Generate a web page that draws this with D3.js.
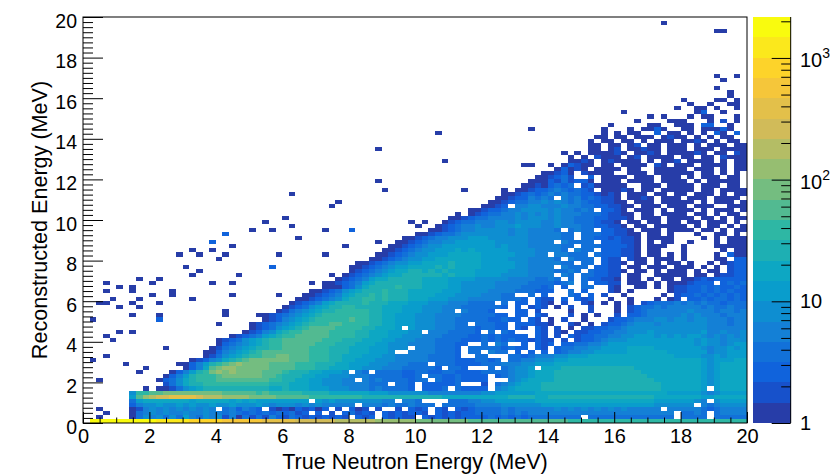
<!DOCTYPE html>
<html>
<head>
<meta charset="utf-8">
<script src="https://cdn.jsdelivr.net/npm/d3@7"></script>
<style>
  body { margin: 0; background: #fff; }
  text { font-family: "Liberation Sans", Arial, Helvetica, sans-serif; fill: #000; }
</style>
</head>
<body>
<svg id="chart" width="830" height="474"></svg>
<script>
// ---- data -------------------------------------------------------------
const energyRange = [0, 20];          // MeV, both axes
const nBins = 100;                    // 100 x 100 bins
const binWidth = 0.2;
const zRange = [1, 2170];             // palette axis (log)
const nLevels = 20;                   // contour levels of the palette

const xTickValues = [0, 2, 4, 6, 8, 10, 12, 14, 16, 18, 20];
const yTickValues = [0, 2, 4, 6, 8, 10, 12, 14, 16, 18, 20];
const zMajorTicks = [1, 10, 100, 1000];
const zMinorTicks = [2, 3, 4, 5, 6, 7, 8, 9, 20, 30, 40, 50, 60, 70, 80, 90,
  200, 300, 400, 500, 600, 700, 800, 900, 2000];
const zLabels = [
  { value: 1, base: '1', exp: '' },
  { value: 10, base: '10', exp: '' },
  { value: 100, base: '10', exp: '2' },
  { value: 1000, base: '10', exp: '3' },
];
const xTitle = 'True Neutron Energy (MeV)';
const yTitle = 'Reconstructed Energy (MeV)';

// ROOT kBird palette
const birdStops = [0.0, 0.125, 0.25, 0.375, 0.5, 0.625, 0.75, 0.875, 1.0];
const birdRed = [0.2082, 0.0592, 0.0780, 0.0232, 0.1802, 0.5301, 0.8186, 0.9956, 0.9764];
const birdGreen = [0.1664, 0.3599, 0.5041, 0.6419, 0.7178, 0.7492, 0.7328, 0.7862, 0.9832];
const birdBlue = [0.5293, 0.8684, 0.8385, 0.7914, 0.6425, 0.4662, 0.3499, 0.1968, 0.0539];

// bin contents, one string per reconstructed-energy bin
// (top row first), one char per true-energy bin: '.' empty, 0-9 a-j = colour level
const levelCodes = '0123456789abcdefghij';
const histRows = [
  /* 99 */ '',
  /* 98 */ '..........|..........|..........|..........|..........|..........|..........|..........|.......0..',
  /* 97 */ '',
  /* 96 */ '..........|..........|..........|..........|..........|..........|..........|..........|..........|.....00...',
  /* 95 */ '',
  /* 94 */ '',
  /* 93 */ '',
  /* 92 */ '',
  /* 91 */ '',
  /* 90 */ '',
  /* 89 */ '',
  /* 88 */ '',
  /* 87 */ '',
  /* 86 */ '',
  /* 85 */ '..........|..........|..........|..........|..........|..........|..........|..........|..........|.....0..0.',
  /* 84 */ '..........|..........|..........|..........|..........|..........|..........|..........|..........|......0...',
  /* 83 */ '',
  /* 82 */ '..........|..........|..........|..........|..........|..........|..........|..........|..........|.....0....',
  /* 81 */ '..........|..........|..........|..........|..........|..........|..........|..........|..........|.......0..',
  /* 80 */ '..........|..........|..........|..........|..........|..........|..........|..........|..........|.......0..',
  /* 79 */ '..........|..........|..........|..........|..........|..........|..........|..........|..........|0....00.0.',
  /* 78 */ '..........|..........|..........|..........|..........|..........|..........|..........|..........|.0..0..00.',
  /* 77 */ '..........|..........|..........|..........|..........|..........|..........|..........|.........0|..00.0..0.',
  /* 76 */ '..........|..........|..........|..........|..........|..........|..........|..........|.0........|..02..0...',
  /* 75 */ '..........|..........|..........|..........|..........|..........|..........|..........|.....0.0..|.0.00...0.',
  /* 74 */ '..........|..........|..........|..........|..........|..........|..........|..........|...0....00|0...0.1.0.',
  /* 73 */ '..........|..........|..........|..........|..........|..........|..........|.........0|.....00..0|00.22..0..',
  /* 72 */ '..........|..........|..........|..........|..........|..........|.......0..|........0.|..0.0020..|00.00020..',
  /* 71 */ '..........|..........|..........|..........|..........|...0......|..........|........0.|0.00..2.00|.0.0.20.2.',
  /* 70 */ '..........|..........|..........|..........|..........|..........|..........|.......00.|00.000.010|0.0.0.00..',
  /* 69 */ '..........|..........|..........|..........|..........|..........|..........|......0.00|.00.0.000.|0010.0.00.',
  /* 68 */ '..........|..........|..........|..........|..........|..........|..........|......00.0|0.01.00.00|0.0.000.00',
  /* 67 */ '..........|..........|..........|..........|....0.....|..........|..........|......00.0|1.00100.00|0.000.0000',
  /* 66 */ '..........|..........|..........|..........|..........|..........|..........|..0.0.0000|10.0010.00|0010.00.10',
  /* 65 */ '..........|..........|..........|..........|..........|..........|..........|...0.0.100|0.01.0000.|00.00.1000',
  /* 64 */ '..........|..........|..........|..........|..........|....0.....|..........|...0010.01|0000.0.001|.0000.0.00',
  /* 63 */ '..........|..........|..........|..........|..........|..........|......00..|0.02100.00|.0000.10.0|00.0000.00',
  /* 62 */ '..........|..........|..........|..........|..........|..........|..........|.02010.000|0.00..0000|0.000.0.00',
  /* 61 */ '..........|..........|..........|..........|..........|..........|.........0|0120.10000|..000.0000|00.00.0.0.',
  /* 60 */ '..........|..........|..........|..........|..........|..........|........00|1231..2.00|00.000.000|.0.000.00.',
  /* 59 */ '..........|..........|..........|..........|....0.....|..........|.......000|2131220.00|0.0000.000|0.0.00000.',
  /* 58 */ '..........|..........|..........|..........|..........|..........|......0010|2323.12000|00..000.00|00.000.00.',
  /* 57 */ '..........|..........|..........|..........|.....0....|.......0..|...0.00122|3432321.00|010.00.000|00.00.0000',
  /* 56 */ '..........|..........|..........|.0........|..........|..........|...0012323|4343322101|0.000.00.0|0.000.0.00',
  /* 55 */ '..........|..........|..........|..........|..........|..........|..00122434|3.43423211|0.0010.000|.000.0000.',
  /* 54 */ '..........|..........|..........|........0.|..........|..........|.001233445|4543432211|00.000.000|00.0.000.0',
  /* 53 */ '..........|..........|..........|.......0..|..........|..........|0012.44554|4454433221|100.000.00|0.000..000',
  /* 52 */ '..........|..........|..........|..........|..........|........00|1223445555|4544343.22|10.000.0.0|00.0.000.0',
  /* 51 */ '..........|..........|..........|..........|..........|......0.01|2334454545|4544433321|100.00.000|0.00.0.00.',
  /* 50 */ '..........|..........|..........|0.........|..........|.....00123|3444454555|4544333221|110.000.00|00.00.0.00',
  /* 49 */ '..........|..........|.......0..|..........|.........0|.0..012334|4455455554|4544333211|0.00.00.00|.00.000.0.',
  /* 48 */ '..........|..........|..........|.0........|..........|0..0123445|4455565554|4544433221|10.00.0000|0.0.00.0.0',
  /* 47 */ '..........|..........|.....0..0.|......0...|2.........|..00123445|5555455444|43.3433.22|110.000.00|00.00.0.00',
  /* 46 */ '..........|..........|.2........|..........|..........|0012334555|5555455444|4433.33322|1100.00.0.|..0..00.0.',
  /* 45 */ '..........|..........|..........|..0.......|........00|1234455566|6555555444|4433.33221|2110.0000.|...0.0.000',
  /* 44 */ '..........|.........2|..........|..........|....0..001|2344556666|6655555444|4.43333.22|2110.0.00.|.0...0.000',
  /* 43 */ '..........|..........|..0.......|.........0|......0012|3455666666|6656555444|4433.33322|2210.000..|0....00000',
  /* 42 */ '..........|......0..0|..........|..........|.....00123|4556667676|6666555544|443.433.22|2110.00...|0.....0.00',
  /* 41 */ '..........|....0..0..|.0.......0|......0...|....001234|5566677777|6666655544|.44333.322|2110.00.0.|0....0.200',
  /* 40 */ '..........|..........|0.........|..........|...0012345|5667777777|6666555444|43.4333.21|1.100.000.|0....00.22',
  /* 39 */ '..........|..........|..........|..........|.001234556|6777787777|6666655444|4433.33.21|10.00.0.00|.0..0.0122',
  /* 38 */ '..........|.....0....|........2.|..........|0012345667|7778787777|6666655444|4.4333.221|1.00.000.0|00.0.0.122',
  /* 37 */ '..........|.......0..|..........|..........|0123456778|8787877776|6666555444|43343.3221|10.00.0.00|0.0.00.122',
  /* 36 */ '..........|......0...|...0......|.......0.0|1234567788|8888787776|6665555444|4.43.33221|1.00..0000|0.00.01122',
  /* 35 */ '........0.|.0........|..........|........01|2346778888|8777766665|5555444433|43.3.32211|0.00.0.00.|0012122222',
  /* 34 */ '...0......|0........0|..0.......|....0.0012|3467888888|8777766555|5544444333|3234.3.221|1.000.0.00|01222.2323',
  /* 33 */ '.....0.0..|..........|..........|......0002|3578888988|8777766555|5544443332|3.2..33..1|0..00.0.01|1223232232',
  /* 32 */ '...0...0..|...0......|..........|....001235|6788898887|7777666555|5444433322|2..3.2...1|0.0.....01|1223232322',
  /* 31 */ '..........|0..0......|..0......0|...0012346|7889898887|7776665555|44433..3.2|...32.2.1.|.0.....0.1|2232323232',
  /* 30 */ '....0...0.|......0...|..........|..00123457|8899898887|7766655544|4443332.21|1.2.212..0|..0...0.01|.223233232',
  /* 29 */ '..00...0..|.0........|..........|.012346788|8898887776|6655544433|33.3.22.21|0.1..10.0.|0.0.123334|3434332333',
  /* 28 */ '.....0..0.|..........|..........|0123567889|9888877766|6555444333|3332.2.121|.0.1..1...|0.12334344|4443433433',
  /* 27 */ '..........|..........|.0.......0|1345678899|9998877766|655544.433|32...22.1.|...0..1...|0.12344444|4544434434',
  /* 26 */ '.......0..|.0........|.0....0012|3456789999|9998877666|5554444333|3322.22.21|...1.0.0..|1.22344444|5454443444',
  /* 25 */ '.0........|.2........|.......012|4567899999|a998877666|5554443333|322322.21.|0.1..0...1|2234445545|5455444344',
  /* 24 */ '..........|..........|0....01234|5678999aa9|9998877666|55544433.3|3322.22211|0..10.0.12|2345554555|5555444344',
  /* 23 */ '..........|..........|.....01235|6789aaaa99|99887776.6|5554443332|3322.21.21|.1.0.11223|3455555555|5555444444',
  /* 22 */ '.....0.0..|..........|....012457|899aaaa999|9887776665|5.44433332|.3.32...21|.10.112233|4455565555|5556445445',
  /* 21 */ '...0......|..........|..01234678|99aaaaa999|9887776655|5444333322|3232222.21|.1.2122334|4556665656|5665454545',
  /* 20 */ '....0.....|..........|0123567899|aaaaaa9998|8877766555|4443333222|3232322121|1.1.122345|5566666666|6656554555',
  /* 19 */ '..........|..........|0234567899|aaaaa99988|8777665554|44433322..|3.43..2.21|2.22334456|6666666666|6656554566',
  /* 18 */ '..........|..0......0|1345678899|aaaa999888|777666555.|4443332.33|3332322.21|.233445566|6677776666|6665455656',
  /* 17 */ '..........|........00|2456789aaa|aaaa999888|7776665..4|4443332.33|.433.2.2.2|.234455666|6677777766|6666455666',
  /* 16 */ '...0......|........01|3567899aab|baaa999887|7766655444|4433332..3|3...332344|4556667777|7777777776|6665565666',
  /* 15 */ '.0........|......0124|5789abbbbb|baaa999887|7666555444|4433332223|323.334455|5667777777|7777777777|7776566677',
  /* 14 */ '......0...|....002468|9abcbbbbaa|aa99988877|6665554443|33.3332222|3334445566|6777777777|7777777777|7776567777',
  /* 13 */ '.........0|.....0247a|bccbbbbbaa|aa99988777|6655544433|3332.332..|.3.34556.7|7788888888|8887777777|7776567777',
  /* 12 */ '........0.|...024689b|cbcbbbbaaa|9888776665|.43.333322|3322332222|3333455677|7888888888|8888777777|7776567777',
  /* 11 */ '..........|..02468999|abbbbbbaa9|8887766555|4443333322|3.33223222|2.23455677|7888888888|8888877777|7776567777',
  /* 10 */ '..0.......|.023578999|aaaaaaaa99|8877665554|4.43433332|33.3223222|2...456777|7888888888|8888887777|7776567777',
  /*  9 */ '..........|..13578899|9999999988|8777665554|444333.332|.222223...|1.34567778|8888888888|8888888777|7776567777',
  /*  8 */ '.........0|.001356788|8888888877|8777666555|4443433332|.2223.3222|2.45677778|8888888888|8888888777|7776.67777',
  /*  7 */ '.......599|aabbbbbbbb|baaaaa9a99|9998888777|7776665555|5544444444|5566666677|7777777777|7777777766|6665456666',
  /*  6 */ '.......6ac|deeffffedd|dccccbbbba|aaaa999999|9988888888|8888777777|7777888877|8888888888|8888887777|7776677777',
  /*  5 */ '.......367|7777776777|7767676666|6666.65655|5555544.44|3....33344|5566666677|7777777777|7777776666|6654.56666',
  /*  4 */ '.......245|5655656556|5565556545|5545454444|4.44434334|333.333334|4445555556|6666666666|6666665555|55.4345555',
  /*  3 */ '..0....014|5454545454|.342432.10|1021202.1.|201.1..1.2|12.21.2123|3334344444|4545454545|4544444.44|4443234444',
  /*  2 */ '...0...034|5454454454|4343232323|2312.2.1.2|3121.21212|21.2121223|3334343444|4444444444|444444444.|3343.34444',
  /*  1 */ '..0....035|4535364354|5140313142|1321212121|.212.21211|.212121222|2323232333|33333.3333|333333333.|3333.33333',
  /*  0 */ '.jjjjjjjjj|jiiiiihhhh|hggggggfff|ffeeeeeedd|ddddcccccc|bbbbbbbbaa|aaaaaaaaaa|aaa9999999|9999999999|9999999999',
];

// ---- layout -----------------------------------------------------------
const plot = { left: 83, right: 747, top: 17, bottom: 423 };
const paletteBox = { left: 752.7, right: 790.7 };
const svg = d3.select('#chart');

const x = d3.scaleLinear().domain(energyRange).range([plot.left, plot.right]);
const y = d3.scaleLinear().domain(energyRange).range([plot.bottom, plot.top]);
const zAxis = d3.scaleLog().domain(zRange).range([plot.bottom, plot.top]);
const levelScale = d3.scaleLog().domain(zRange).range([0, nLevels]);

const bird = d3.scaleLinear()
  .domain(birdStops)
  .range(birdStops.map((s, i) => d3.rgb(birdRed[i] * 255, birdGreen[i] * 255, birdBlue[i] * 255)))
  .interpolate(d3.interpolateRgb);
// same lookup ROOT does for 20 contours in a 255 colour table
const palette = d3.range(nLevels).map((i) => bird(Math.floor(((i + 0.99) * 255) / nLevels) / 254));
const colorOf = (v) => palette[Math.max(0, Math.min(nLevels - 1, Math.floor(levelScale(v))))];

const logMin = Math.log10(zRange[0]);
const logStep = (Math.log10(zRange[1]) - logMin) / nLevels;
const levelToCount = (lvl) => 10 ** (logMin + (lvl + 0.5) * logStep);

const cells = [];
histRows.forEach((line, i) => {
  const iy = nBins - 1 - i;
  const codes = (line ? line.split('|') : [])
    .map((c) => c.padEnd(10, '.').slice(0, 10))
    .join('')
    .padEnd(nBins, '.');
  for (let ix = 0; ix < nBins; ix += 1) {
    const lvl = levelCodes.indexOf(codes[ix]);
    if (lvl >= 0) {
      cells.push({ x0: energyRange[0] + ix * binWidth, y0: energyRange[0] + iy * binWidth, count: levelToCount(lvl) });
    }
  }
});

// ---- cells --------------------------------------------------------------
svg.append('g')
  .attr('shape-rendering', 'crispEdges')
  .selectAll('rect')
  .data(cells)
  .join('rect')
  .attr('x', (d) => x(d.x0))
  .attr('y', (d) => y(d.y0 + binWidth))
  .attr('width', (d) => x(d.x0 + binWidth) - x(d.x0))
  .attr('height', (d) => y(d.y0) - y(d.y0 + binWidth))
  .attr('fill', (d) => colorOf(d.count));

// frame
svg.append('rect')
  .attr('x', plot.left).attr('y', plot.top)
  .attr('width', plot.right - plot.left).attr('height', plot.bottom - plot.top)
  .attr('fill', 'none').attr('stroke', '#000').attr('stroke-width', 1);

// ---- axes (ROOT style: ticks pointing into the frame) -----------------
function tickGroup(axis, transform) {
  const g = svg.append('g').attr('transform', transform).call(axis);
  g.select('.domain').remove();
  g.selectAll('line').attr('stroke', '#000').attr('stroke-width', 1);
  return g;
}

const xMinor = d3.range(0, 20.001, 0.5).filter((v) => v % 2 !== 0);
const yMinor = d3.range(0, 20.001, 0.25).filter((v) => v % 2 !== 0);

tickGroup(d3.axisTop(x).tickValues(xMinor).tickSize(5.5).tickFormat(''), `translate(0,${plot.bottom})`);
tickGroup(d3.axisTop(x).tickValues(xTickValues).tickSize(11).tickFormat(''), `translate(0,${plot.bottom})`);
tickGroup(d3.axisRight(y).tickValues(yMinor).tickSize(10).tickFormat(''), `translate(${plot.left},0)`);
tickGroup(d3.axisRight(y).tickValues(yTickValues).tickSize(20).tickFormat(''), `translate(${plot.left},0)`);

const xLabels = tickGroup(
  d3.axisBottom(x).tickValues(xTickValues).tickSize(0).tickPadding(5.5).tickFormat(d3.format('d')),
  `translate(0,${plot.bottom})`,
);
xLabels.selectAll('text').attr('font-size', 20).attr('fill', '#000');

const yLabels = tickGroup(
  d3.axisLeft(y).tickValues(yTickValues).tickSize(0).tickPadding(6).tickFormat(d3.format('d')),
  `translate(${plot.left},0)`,
);
yLabels.selectAll('text').attr('font-size', 19.5).attr('dy', '0.52em').attr('fill', '#000');

svg.append('text')
  .attr('x', (plot.left + plot.right) / 2).attr('y', 469)
  .attr('text-anchor', 'middle').attr('font-size', 21.6)
  .text(xTitle);

svg.append('text')
  .attr('transform', `translate(47,${(plot.top + plot.bottom) / 2}) rotate(-90)`)
  .attr('text-anchor', 'middle').attr('font-size', 21.6)
  .text(yTitle);

// ---- palette ------------------------------------------------------------
const bands = d3.range(nLevels).map((i) => ({
  lo: 10 ** (logMin + i * logStep),
  hi: 10 ** (logMin + (i + 1) * logStep),
  color: palette[i],
}));

svg.append('g')
  .attr('shape-rendering', 'crispEdges')
  .selectAll('rect')
  .data(bands)
  .join('rect')
  .attr('x', paletteBox.left)
  .attr('width', paletteBox.right - paletteBox.left)
  .attr('y', (d) => zAxis(d.hi))
  .attr('height', (d) => zAxis(d.lo) - zAxis(d.hi))
  .attr('fill', (d) => d.color);

svg.append('line')
  .attr('x1', paletteBox.right).attr('x2', paletteBox.right)
  .attr('y1', plot.top).attr('y2', plot.bottom)
  .attr('stroke', '#000');

tickGroup(d3.axisLeft(zAxis).tickValues(zMinorTicks).tickSize(9.5).tickFormat(''), `translate(${paletteBox.right},0)`);
tickGroup(d3.axisLeft(zAxis).tickValues(zMajorTicks).tickSize(19).tickFormat(''), `translate(${paletteBox.right},0)`);

const zText = svg.append('g')
  .selectAll('text')
  .data(zLabels)
  .join('text')
  .attr('x', 800)
  .attr('y', (d) => zAxis(d.value) + (d.exp ? 9 : 7))
  .attr('font-size', 20);
zText.append('tspan').text((d) => d.base);
zText.filter((d) => d.exp)
  .append('tspan')
  .attr('dy', -9)
  .attr('font-size', 14)
  .text((d) => d.exp);
</script>
</body>
</html>
